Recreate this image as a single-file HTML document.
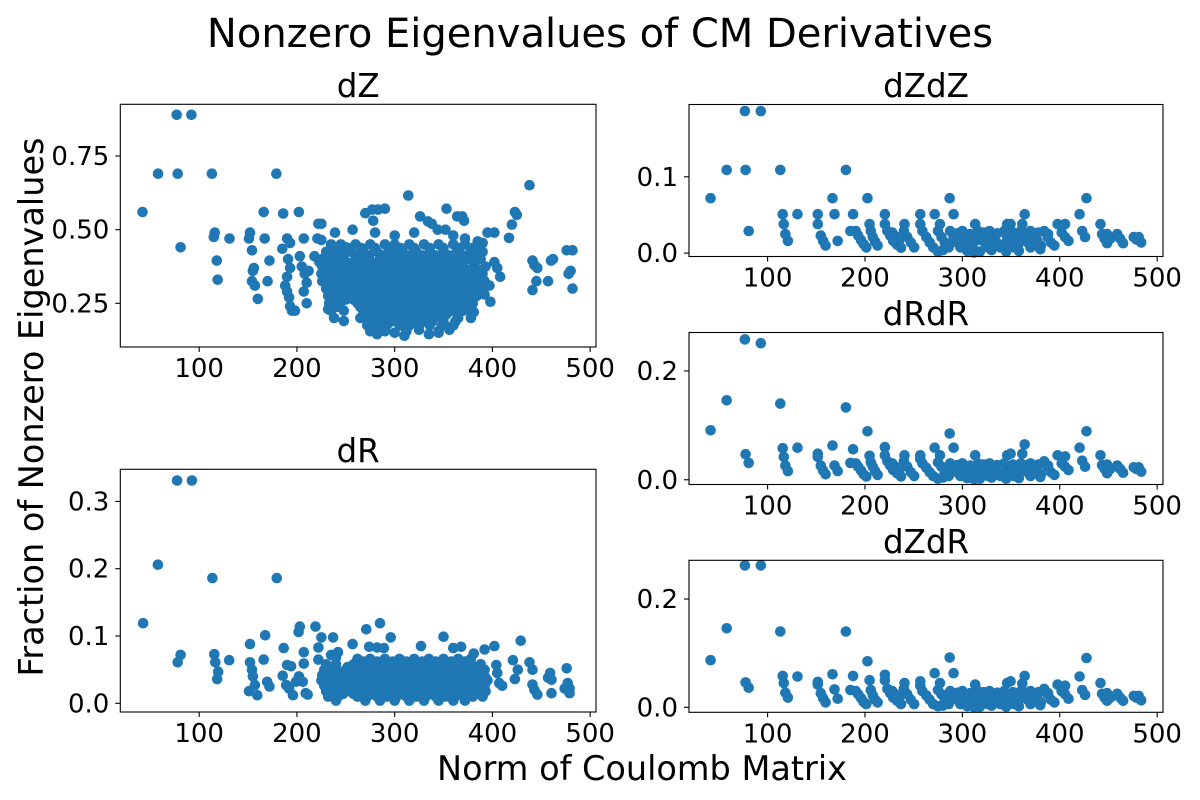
<!DOCTYPE html>
<html>
<head>
<meta charset="utf-8">
<style>
html,body{margin:0;padding:0;background:#fff;}
svg{display:block;font-family:"DejaVu Sans","Liberation Sans",sans-serif;}
</style>
</head>
<body>
<svg id="fig" width="1200" height="800" viewBox="0 0 1200 800" xmlns="http://www.w3.org/2000/svg">
<rect x="0" y="0" width="1200" height="800" fill="#fff"/>
<text x="600" y="47" font-size="40" text-anchor="middle" fill="#000">Nonzero Eigenvalues of CM Derivatives</text>
<text x="0" y="0" font-size="33.5" text-anchor="middle" fill="#000" transform="translate(43,407) rotate(-90)">Fraction of Nonzero Eigenvalues</text>
<text x="642" y="780" font-size="33.5" text-anchor="middle" fill="#000">Norm of Coulomb Matrix</text>
</svg>
<script>
// ---- data ----
const xTicks = [100, 200, 300, 400, 500];
const xTickLabels = ["100", "200", "300", "400", "500"];
const dZTicks = [0.25, 0.5, 0.75];
const dZTickLabels = ["0.25", "0.50", "0.75"];
const dRTicks = [0.0, 0.1, 0.2, 0.3];
const dRTickLabels = ["0.0", "0.1", "0.2", "0.3"];
const dZdZTicks = [0.0, 0.1];
const dZdZTickLabels = ["0.0", "0.1"];
const dRdRTicks = [0.0, 0.2];
const dRdRTickLabels = ["0.0", "0.2"];
const dZdRTicks = [0.0, 0.2];
const dZdRTickLabels = ["0.0", "0.2"];

const dZPoints = [[42,0.56],[58,0.69],[77,0.89],[92,0.89],[78,0.69],[81,0.44],[113,0.69],[116,0.49],[115,0.475],[118,0.395],[119,0.33],[131,0.47],[152,0.49],[151,0.47],[154,0.43],[156,0.37],[155,0.36],[154,0.325],[157,0.31],[160,0.265],[166,0.56],[167,0.47],[172,0.395],[170,0.325],[179,0.69],[186,0.555],[202,0.56],[185,0.435],[190,0.47],[193,0.455],[207,0.47],
[191,0.40],[193,0.37],[190,0.34],[188,0.31],[190,0.29],[192,0.27],[193,0.24],[195,0.225],[198,0.225],[203,0.41],[205,0.375],[208,0.35],[210,0.32],[207,0.29],[210,0.25],[212,0.36],
[222,0.52],[225,0.52],[221,0.47],[225,0.465],[218,0.41],[223,0.39],[239,0.49],[257,0.50],
[270,0.556],[277,0.568],[283,0.568],[290,0.571],[278,0.53],[314,0.616],[326,0.545],[334,0.528],[338,0.52],[353,0.571],[364,0.545],[369,0.545],[371,0.53],[344,0.50],[352,0.50],[395,0.49],[402,0.49],[417,0.472],[420,0.517],[423,0.56],[425,0.55],[438,0.651],[441,0.395],[443,0.38],[446,0.37],[445,0.325],[441,0.295],[460,0.395],[462,0.40],[457,0.325],[476,0.43],[482,0.43],[480,0.36],[478,0.35],[482,0.30],
[360,0.48],[372,0.47],[385,0.46],[390,0.455],[300,0.48],[280,0.49],[320,0.49],[250,0.44],[402,0.39],[405,0.37],[408,0.34],[397,0.31],[392,0.28],[398,0.255],[381,0.22],[378,0.2],[356,0.16],[325,0.16],[345,0.15],[265,0.2],[248,0.19],[238,0.2],[232,0.23],[310,0.14],[282,0.145],[300,0.15],[335,0.145]];

const dZBlobRows = [
 [0.45,[235,245,260,275,290,300,315,330,345,360,372,385]],
 [0.4375,[240,252,266,280,294,306,320,336,350,366,380]],
 [0.425,[230,242,255,268,282,296,308,322,336,350,364,378,390]],
 [0.4125,[235,248,260,274,288,302,315,328,342,356,370,384]],
 [0.40,[226,238,248,262,272,285,298,310,322,335,348,360,375,388]],
 [0.3875,[232,243,256,266,278,291,304,316,328,341,354,367,381]],
 [0.375,[226,236,247,258,268,278,288,298,308,318,328,338,348,358,370,382,393]],
 [0.3625,[231,241,252,263,273,283,293,303,313,323,333,343,353,364,376,387]],
 [0.35,[225,235,246,258,268,278,288,298,308,318,328,338,348,358,368,378,390]],
 [0.3375,[230,241,252,263,273,283,293,303,313,323,333,343,353,363,373,384]],
 [0.325,[226,236,248,260,270,280,290,300,310,320,330,340,350,360,370,380,392]],
 [0.3125,[233,244,256,265,275,285,295,305,315,325,335,345,355,365,375,386]],
 [0.30,[230,240,252,262,272,282,292,302,312,322,332,342,352,362,372,382,390]],
 [0.2875,[236,247,259,267,277,287,297,307,317,327,337,347,357,367,377,387]],
 [0.275,[232,242,255,264,274,284,294,304,314,324,334,344,354,364,374,384]],
 [0.2625,[238,250,258,268,278,288,298,308,318,328,338,348,358,368,378]],
 [0.25,[233,244,262,272,282,292,302,312,322,332,342,352,362,372,380]],
 [0.2375,[240,265,275,285,295,305,315,325,335,345,355,366,375]],
 [0.225,[235,248,268,278,288,298,308,318,328,338,348,358,370,378]],
 [0.2125,[273,283,293,303,313,323,333,343,353,364]],
 [0.20,[270,280,290,300,310,320,330,340,350,365]],
 [0.1875,[276,286,296,308,318,328,338,350,362]],
 [0.175,[272,282,292,305,315,325,336,348,360]],
 [0.155,[275,290,312,345]]];

const dRPoints = [[42.6,0.119],[77.4,0.331],[92.6,0.331],[57.8,0.206],[113.5,0.186],[179.4,0.186],[81,0.072],[78,0.061],[115.5,0.073],[116.5,0.061],[119.5,0.047],[118.4,0.036],[130.7,0.064],[152,0.088],[152,0.061],[154,0.05],[155,0.04],[151,0.018],[159.5,0.012],[157,0.027],[167.5,0.101],[166,0.065],[169.6,0.032],[172,0.025],[186.5,0.082],[190,0.057],[194,0.055],[185.5,0.041],[201.7,0.106],[203,0.114],[207,0.076],[207,0.059],[209,0.015],[211,0.013],[189,0.027],[192,0.022],[196,0.012],[199,0.032],[202,0.04],[206,0.032],
[219,0.114],[225,0.098],[237,0.098],[222,0.083],[222,0.065],[235,0.072],[242,0.076],[240,0.068],[257,0.088],[271,0.110],[285,0.119],[296,0.098],[274,0.084],[282,0.083],[289,0.082],[327,0.085],[350,0.099],[360,0.082],[368,0.084],[381,0.074],[392,0.080],[402,0.085],[429,0.093],[421,0.064],[426,0.05],[423,0.036],[404,0.057],[405,0.045],[407,0.030],[410,0.026],[438,0.061],[441,0.05],[441,0.028],[443,0.02],[446,0.013],[459,0.045],[460.5,0.035],[457,0.038],[460.5,0.015],[476,0.052],[477,0.03],[479,0.022],[479,0.015],[474,0.022]];

const dRBlobRows = [
 [0.066,[262,275,290,305,320,335,350,365,378]],
 [0.062,[268,282,298,312,328,342,358,372]],
 [0.058,[230,240,258,268,280,292,304,316,328,340,352,364,376,388]],
 [0.054,[235,252,263,274,286,298,310,322,334,346,358,370,382]],
 [0.050,[228,238,250,262,272,284,296,308,320,332,344,356,368,380,392]],
 [0.046,[233,244,256,266,278,290,302,314,326,338,350,362,374,386]],
 [0.042,[226,236,248,260,270,280,290,300,310,320,330,340,350,360,370,380,390]],
 [0.038,[231,241,253,263,273,283,293,303,313,323,333,343,353,363,373,383,393]],
 [0.034,[225,235,246,258,268,278,288,298,308,318,328,338,348,358,368,378,388,395]],
 [0.030,[232,242,253,265,275,285,295,305,315,325,335,345,355,365,375,385]],
 [0.026,[228,238,250,262,272,282,292,302,312,322,332,342,352,362,372,382,392]],
 [0.022,[234,245,257,267,277,287,297,307,317,327,337,347,357,367,377,387]],
 [0.018,[230,240,252,264,274,284,294,304,314,324,334,344,354,364,374,384,393]],
 [0.014,[236,247,258,268,278,288,298,308,318,328,338,348,358,368,378,387]],
 [0.010,[232,242,262,272,282,292,302,312,322,332,342,352,362,372,380,390]],
 [0.004,[240,270,285,300,315,330,345,360,372]]];

// right column: [norm, dZdZ, dRdR, dZdR]
const rightRows = [
[41.5,.072,.091,.087],[58,.109,.146,.146],[76.7,.186,.258,.262],[93,.186,.251,.262],[77.4,.109,.047,.046],[80.6,.029,.031,.036],[113,.109,.140,.140],[115.5,.051,.058,.058],[116.6,.038,.042,.045],[118.3,.025,.026,.027],[120.8,.016,.016,.018],[130.7,.051,.059,.057],[151.5,.051,.048,.047],[151.5,.038,.042,.042],[154.6,.023,.026,.026],[157,.016,.017,.017],[159.6,.010,.010,.009],[166.6,.072,.063,.061],[168.7,.051,.026,.033],[172,.016,.016,.016],[180.4,.109,.133,.140],[187.8,.051,.056,.058],[185,.029,.031,.032],
[190.6,.029,.030,.030],[193,.023,.024,.024],[196,.017,.017,.017],[198.6,.012,.010,.010],[201.4,.0075,.006,.006],[202.6,.072,.089,.085],[204.7,.038,.044,.05],[206,.029,.032,.032],[208,.021,.024,.022],[210.5,.015,.016,.014],[213,.010,.009,.009],[220.5,.051,.06,.06],[220.5,.038,.045,.05],[223,.029,.034,.034],[226,.023,.026,.026],[229,.016,.018,.018],[233,.011,.012,.012],[237,.007,.006,.006],[228,.027,.03,.03],[231,.022,.024,.024],[235,.017,.017,.017],[240.6,.038,.045,.045],[240,.029,.034,.034],[243.5,.021,.024,.024],[247,.014,.014,.014],[250.5,.0075,.007,.006],[256.8,.051,.045,.048],[256.8,.038,.038,.04],[259,.029,.030,.030],[263,.021,.022,.022],[266.5,.014,.014,.014],[270,.0075,.007,.006],[271.6,.051,.059,.063],[277,.038,.045,.045],[275,.029,.032,.032],[278.6,.021,.024,.024],[282,.014,.015,.014],[286,.0075,.007,.006],[287,.072,.085,.092],[291,.051,.059,.063],[287.5,.029,.03,.03],[291,.021,.023,.023],[294.6,.014,.014,.014],[298,.0075,.007,.006],[300,.029,.03,.03],[303.5,.021,.023,.023],[307,.014,.014,.014],[310.5,.0075,.007,.006],[312,.001,.001,.0],[313.2,.038,.045,.042],[316,.029,.03,.03],[319,.021,.023,.023],[323,.014,.014,.014],[326.5,.0075,.007,.006],[328,.029,.03,.03],[332,.023,.025,.025],[335,.014,.014,.014],[339,.0075,.007,.006],[346,.038,.045,.045],[349.5,.038,.048,.048],[343,.029,.03,.03],[346,.021,.023,.023],[349.5,.014,.014,.014],[353,.0075,.007,.006],[364,.051,.065,.058],[361.5,.038,.048,.044],[360,.029,.03,.03],[363,.021,.023,.023],[367,.014,.014,.014],[370,.0075,.007,.006],[370,.029,.03,.03],[373.5,.023,.025,.025],[377,.016,.017,.017],[380.6,.010,.010,.009],[384,.029,.034,.034],[387.5,.021,.024,.024],[391,.014,.014,.014],[394.5,.010,.009,.009],[397.8,.038,.045,.042],[405.5,.038,.043,.04],[402,.027,.03,.03],[405.5,.021,.024,.024],[409,.016,.018,.016],[420.4,.051,.059,.057],[423,.029,.035,.032],[426,.021,.024,.023],[427.4,.072,.089,.091],[441.8,.038,.045,.045],[443.5,.025,.027,.025],[446,.019,.02,.018],[448.6,.013,.012,.012],[448.6,.025,.028,.026],[452,.019,.02,.018],[459,.025,.026,.025],[462,.019,.02,.018],[465,.013,.013,.012],[476,.021,.023,.021],[481,.021,.023,.021],[483.6,.014,.015,.013],[478.6,.018,.02,.018],
[275,.002,.002,.002],[280,.004,.004,.003],[305,.003,.003,.002],[318,.002,.002,.001],[330,.004,.004,.003],[345,.002,.002,.001],[358,.003,.003,.002],[380,.005,.005,.004],
[295,.026,.027,.027],[308,.025,.026,.026],[322,.027,.028,.028],[336,.026,.027,.027],[352,.027,.028,.028],[366,.026,.027,.027],[378,.027,.028,.028],[388,.025,.026,.026],
[300,.018,.019,.019],[315,.017,.018,.018],[330,.019,.02,.02],[355,.018,.019,.019],[372,.019,.02,.02],[340,.011,.011,.011],[325,.010,.010,.010],[357,.010,.010,.010],[285,.012,.012,.012]];

// ---- drawing ----
const NS = "http://www.w3.org/2000/svg";
const svg = document.getElementById("fig");
const X_DOMAIN = [19.3, 506];

function mk(tag, attrs, parent) {
  const e = document.createElementNS(NS, tag);
  for (const k in attrs) e.setAttribute(k, attrs[k]);
  (parent || svg).appendChild(e);
  return e;
}

function panel(name, box, yDom, yTicks, yLabels, title, titleY) {
  const g = mk("g", {});
  
  
  const sx = v => box.x0 + (v - X_DOMAIN[0]) / (X_DOMAIN[1] - X_DOMAIN[0]) * (box.x1 - box.x0);
  const sy = v => box.y1 - (v - yDom[0]) / (yDom[1] - yDom[0]) * (box.y1 - box.y0);
  const t = mk("text", {x: (box.x0 + box.x1) / 2, y: titleY, "font-size": 32.5, "text-anchor": "middle", fill: "#000"}, g);
  t.textContent = title;
  
  
  const pts = mk("g", {fill: "#1f77b4"}, g);
  
  
  const frame = mk("rect", {x: box.x0, y: box.y0, width: box.x1 - box.x0, height: box.y1 - box.y0, fill: "none", stroke: "#000", "stroke-width": 1.1}, g);
  
  
  xTicks.forEach((v, i) => {
    const px = sx(v);
    const tk = mk("line", {x1: px, x2: px, y1: box.y1, y2: box.y1 + 5, stroke: "#000", "stroke-width": 1.1}, g);
    
    
    const lb = mk("text", {x: px, y: box.y1 + 30, "font-size": 26, "text-anchor": "middle", fill: "#000"}, g);
    lb.textContent = xTickLabels[i];
    
    
  });
  yTicks.forEach((v, i) => {
    const py = sy(v);
    const tk = mk("line", {x1: box.x0 - 5, x2: box.x0, y1: py, y2: py, stroke: "#000", "stroke-width": 1.1}, g);
    
    
    const lb = mk("text", {x: box.x0 - 11, y: py + 9, "font-size": 26, "text-anchor": "end", fill: "#000"}, g);
    lb.textContent = yLabels[i];
    
    
  });
  return (x, y) => {
    const c = mk("circle", {cx: sx(x).toFixed(1), cy: sy(y).toFixed(1), r: 5.3}, pts);
    
    
  };
}

const L = {x0: 120.3, x1: 596};
const R = {x0: 689, x1: 1163};

const dZDot = panel("dz", {x0: L.x0, x1: L.x1, y0: 104.3, y1: 347}, [0.1017, 0.9255], dZTicks, dZTickLabels, "dZ", 97);
dZPoints.forEach(p => dZDot(p[0], p[1]));
dZBlobRows.forEach(r => r[1].forEach(x => dZDot(x, r[0])));

const dRDot = panel("dr", {x0: L.x0, x1: L.x1, y0: 469.3, y1: 712}, [-0.0129, 0.3477], dRTicks, dRTickLabels, "dR", 462);
dRPoints.forEach(p => dRDot(p[0], p[1]));
dRBlobRows.forEach(r => r[1].forEach(x => dRDot(x, r[0])));

const zzDot = panel("dzdz", {x0: R.x0, x1: R.x1, y0: 104.5, y1: 256.5}, [-0.0044, 0.1947], dZdZTicks, dZdZTickLabels, "dZdZ", 97);
rightRows.forEach(r => zzDot(r[0], r[1]));

const rrDot = panel("drdr", {x0: R.x0, x1: R.x1, y0: 332.5, y1: 484.5}, [-0.0087, 0.2707], dRdRTicks, dRdRTickLabels, "dRdR", 325);
rightRows.forEach(r => rrDot(r[0], r[2]));

const zrDot = panel("dzdr", {x0: R.x0, x1: R.x1, y0: 560.3, y1: 712.3}, [-0.0092, 0.2715], dZdRTicks, dZdRTickLabels, "dZdR", 553);
rightRows.forEach(r => zrDot(r[0], r[3]));
</script>
</body>
</html>
